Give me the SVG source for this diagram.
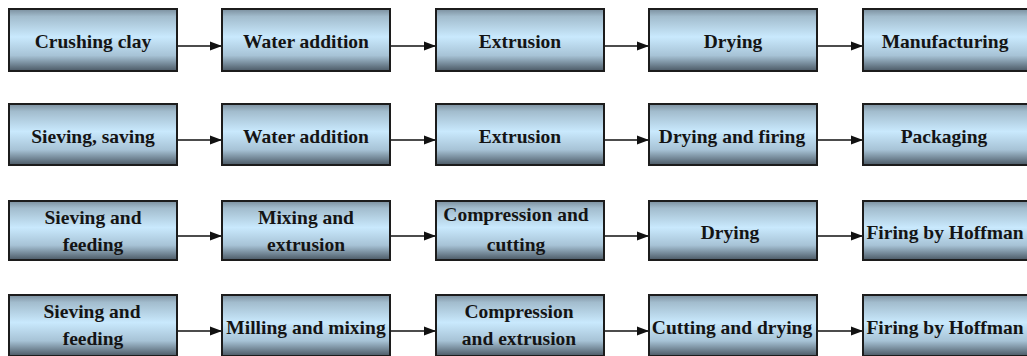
<svg xmlns="http://www.w3.org/2000/svg" width="1027" height="356" viewBox="0 0 1027 356">
<style>
.box{fill:url(#g);stroke:#1c1c1c;stroke-width:2}
.t{font-family:'Times New Roman','Liberation Serif',Tinos,'DejaVu Serif',serif;font-weight:700;font-size:19.5px;fill:#141414;text-anchor:middle}
.c{stroke:#111;stroke-width:1.6;fill:none;marker-end:url(#a)}
</style>
<defs>
<linearGradient id="g" x1="0" y1="0" x2="0" y2="1">
<stop offset="0" stop-color="#7b8f9e"/>
<stop offset="0.12" stop-color="#a2bccd"/>
<stop offset="0.45" stop-color="#c9e9fd"/>
<stop offset="0.75" stop-color="#a7c3d6"/>
<stop offset="1" stop-color="#4b5965"/>
</linearGradient>
<marker id="a" markerUnits="userSpaceOnUse" markerWidth="12" markerHeight="10" refX="12" refY="5" orient="auto">
<path d="M0,0.5 L12,5 L0,9.5 Z" fill="#111"/>
</marker>
</defs>
<rect width="1027" height="356" fill="#fff"/>
<g id="connectors">
<line class="c" x1="177" y1="46" x2="222" y2="46"/>
<line class="c" x1="390" y1="46" x2="436" y2="46"/>
<line class="c" x1="604" y1="46" x2="649" y2="46"/>
<line class="c" x1="817" y1="46" x2="863" y2="46"/>
<line class="c" x1="177" y1="140" x2="222" y2="140"/>
<line class="c" x1="390" y1="140" x2="436" y2="140"/>
<line class="c" x1="604" y1="140" x2="649" y2="140"/>
<line class="c" x1="817" y1="140" x2="863" y2="140"/>
<line class="c" x1="177" y1="236" x2="222" y2="236"/>
<line class="c" x1="390" y1="236" x2="436" y2="236"/>
<line class="c" x1="604" y1="236" x2="649" y2="236"/>
<line class="c" x1="817" y1="236" x2="863" y2="236"/>
<line class="c" x1="177" y1="331" x2="222" y2="331"/>
<line class="c" x1="390" y1="331" x2="436" y2="331"/>
<line class="c" x1="604" y1="331" x2="649" y2="331"/>
<line class="c" x1="817" y1="331" x2="863" y2="331"/>
</g>
<g id="r1c1"><rect class="box" x="9" y="9" width="168" height="62"/><text class="t" x="93" y="48">Crushing clay</text></g>
<g id="r1c2"><rect class="box" x="222" y="9" width="168" height="62"/><text class="t" x="306" y="48">Water addition</text></g>
<g id="r1c3"><rect class="box" x="436" y="9" width="168" height="62"/><text class="t" x="520" y="48">Extrusion</text></g>
<g id="r1c4"><rect class="box" x="649" y="9" width="168" height="62"/><text class="t" x="733" y="48">Drying</text></g>
<g id="r1c5"><rect class="box" x="863" y="9" width="168" height="62"/><text class="t" x="945" y="48">Manufacturing</text></g>

<g id="r2c1"><rect class="box" x="9" y="104" width="168" height="61"/><text class="t" x="93" y="143">Sieving, saving</text></g>
<g id="r2c2"><rect class="box" x="222" y="104" width="168" height="61"/><text class="t" x="306" y="143">Water addition</text></g>
<g id="r2c3"><rect class="box" x="436" y="104" width="168" height="61"/><text class="t" x="520" y="143">Extrusion</text></g>
<g id="r2c4"><rect class="box" x="649" y="104" width="168" height="61"/><text class="t" x="732" y="143">Drying and firing</text></g>
<g id="r2c5"><rect class="box" x="863" y="104" width="168" height="61"/><text class="t" x="944" y="143">Packaging</text></g>

<g id="r3c1"><rect class="box" x="9" y="201" width="168" height="59"/><text class="t" x="93" y="224">Sieving and</text><text class="t" x="93" y="251">feeding</text></g>
<g id="r3c2"><rect class="box" x="222" y="201" width="168" height="59"/><text class="t" x="306" y="224">Mixing and</text><text class="t" x="306" y="251">extrusion</text></g>
<g id="r3c3"><rect class="box" x="436" y="201" width="168" height="59"/><text class="t" x="516" y="221">Compression and</text><text class="t" x="516" y="251">cutting</text></g>
<g id="r3c4"><rect class="box" x="649" y="201" width="168" height="59"/><text class="t" x="730" y="239">Drying</text></g>
<g id="r3c5"><rect class="box" x="863" y="201" width="168" height="59"/><text class="t" x="945" y="239">Firing by Hoffman</text></g>

<g id="r4c1"><rect class="box" x="9" y="295" width="168" height="61"/><text class="t" x="92" y="318">Sieving and</text><text class="t" x="93" y="345">feeding</text></g>
<g id="r4c2"><rect class="box" x="222" y="295" width="168" height="61"/><text class="t" x="306" y="334">Milling and mixing</text></g>
<g id="r4c3"><rect class="box" x="436" y="295" width="168" height="61"/><text class="t" x="519" y="318">Compression</text><text class="t" x="519" y="345">and extrusion</text></g>
<g id="r4c4"><rect class="box" x="649" y="295" width="168" height="61"/><text class="t" x="732" y="334">Cutting and drying</text></g>
<g id="r4c5"><rect class="box" x="863" y="295" width="168" height="61"/><text class="t" x="945" y="334">Firing by Hoffman</text></g>
</svg>
